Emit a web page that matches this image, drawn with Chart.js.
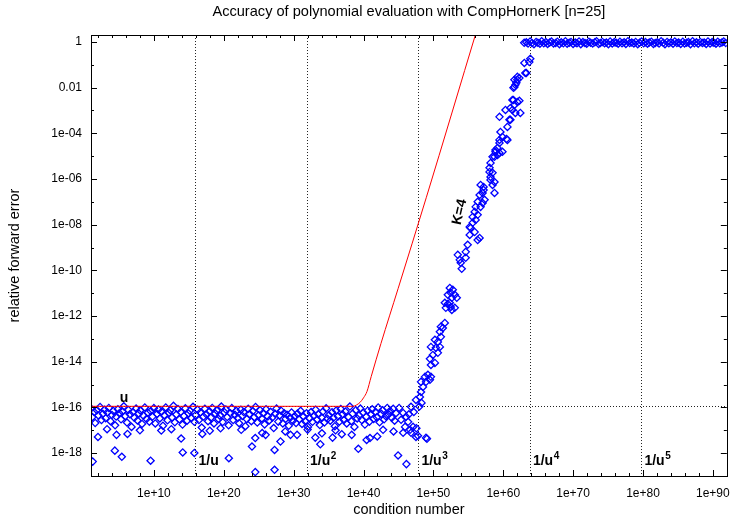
<!DOCTYPE html>
<html>
<head>
<meta charset="UTF-8">
<title>Accuracy of polynomial evaluation with CompHornerK</title>
<script src="https://cdn.jsdelivr.net/npm/chart.js"></script>
<style>
  html, body { margin: 0; padding: 0; background: #fff; }
</style>
</head>
<body>
<canvas id="accuracyChart" width="740" height="520"></canvas>
<script>
// unit roundoff of binary64 and the 1/u^k reference lines
const unitRoundoff = 1.1102e-16;
const refLineValues = [9.007e15, 8.113e31, 7.308e47, 6.582e63, 5.929e79];
const refLinePowers = ['', '2', '3', '4', '5'];

// axis ticks
const xTickValues = [1e10, 1e20, 1e30, 1e40, 1e50, 1e60, 1e70, 1e80, 1e90];
const xTickLabels = ['1e+10', '1e+20', '1e+30', '1e+40', '1e+50', '1e+60', '1e+70', '1e+80', '1e+90'];
const yTickValues = [1e-18, 1e-16, 1e-14, 1e-12, 1e-10, 1e-8, 1e-6, 1e-4, 1e-2, 1];
const yTickLabels = ['1e-18', '1e-16', '1e-14', '1e-12', '1e-10', '1e-08', '1e-06', '1e-04', '0.01', '1'];

// measured relative errors, as log10 of condition number / log10 of error
// flat part (error around u)
const flatCondExp = [
  1.0, 1.2, 1.45, 1.6, 1.85, 2.05, 2.3, 2.5, 2.7, 2.95,
  3.1, 3.35, 3.55, 3.8, 4.0, 4.2, 4.45, 4.6, 4.85, 5.05,
  5.3, 5.5, 5.7, 5.9, 6.15, 6.35, 6.55, 6.8, 7.0, 7.2,
  7.45, 7.65, 7.85, 8.05, 8.3, 8.5, 8.7, 8.95, 9.15, 9.35,
  9.55, 9.8, 10.0, 10.2, 10.45, 10.65, 10.85, 11.1, 11.3, 11.5,
  11.7, 11.95, 12.15, 12.35, 12.6, 12.8, 13.0, 13.2, 13.45, 13.65,
  13.85, 14.1, 14.3, 14.5, 14.75, 14.95, 15.15, 15.35, 15.6, 15.8,
  16.0, 16.25, 16.45, 16.65, 16.85, 17.1, 17.3, 17.5, 17.75, 17.95,
  18.15, 18.35, 18.6, 18.8, 19.0, 19.25, 19.45, 19.65, 19.85, 20.1,
  20.3, 20.5, 20.7, 20.95, 21.15, 21.35, 21.6, 21.8, 22.0, 22.2,
  22.45, 22.65, 22.85, 23.1, 23.3, 23.5, 23.7, 23.95, 24.15, 24.35,
  24.55, 24.8, 25.0, 25.2, 25.45, 25.65, 25.85, 26.05, 26.3, 26.5,
  26.7, 26.95, 27.15, 27.35, 27.55, 27.8, 28.0, 28.2, 28.45, 28.65,
  28.85, 29.05, 29.3, 29.5, 29.7, 29.9, 30.15, 30.35, 30.55, 30.8,
  31.0, 31.2, 31.4, 31.65, 31.85, 32.05, 32.3, 32.5, 32.7, 32.9,
  33.15, 33.35, 33.55, 33.75, 34.0, 34.2, 34.4, 34.65, 34.85, 35.05,
  35.25, 35.5, 35.7, 35.9, 36.1, 36.35, 36.55, 36.75, 37.0, 37.2,
  37.4, 37.6, 37.85, 38.05, 38.25, 38.45, 38.7, 38.9, 39.1, 39.35,
  39.55, 39.75, 39.95, 40.2, 40.4, 40.6, 40.85, 41.05, 41.25, 41.45,
  41.7, 41.9, 42.1, 42.3, 42.55, 42.75, 42.95, 43.2, 43.4, 43.6,
  43.8, 44.05, 44.25, 44.45, 44.65
];
const flatErrExp = [
  -16.05, -16.42, -16.2, -16.68, -16.12, -16.35, -15.98, -16.55, -16.28, -16.1,
  -16.47, -16.22, -16.02, -16.6, -16.33, -16.15, -16.78, -16.4, -16.08, -16.25,
  -16.52, -16.18, -15.95, -16.38, -16.66, -16.11, -16.3, -16.85, -16.2, -16.45,
  -16.05, -16.57, -16.27, -16.13, -16.72, -16.36, -16.0, -16.5, -16.23, -16.62,
  -16.16, -16.4, -16.03, -16.7, -16.29, -16.09, -16.48, -16.19, -16.8, -16.34,
  -16.0, -16.56, -16.24, -16.12, -16.44, -15.93, -16.65, -16.31, -16.07, -16.52,
  -16.2, -16.75, -16.37, -16.04, -16.58, -16.26, -16.14, -16.47, -15.97, -16.63,
  -16.33, -16.1, -16.55, -16.22, -16.88, -16.4, -16.06, -16.3, -16.6, -16.17,
  -16.45, -16.02, -16.7, -16.27, -16.13, -16.5, -16.36, -15.96, -16.64, -16.21,
  -16.09, -16.42, -16.78, -16.25, -16.03, -16.55, -16.32, -16.15, -16.46, -16.69,
  -16.1, -16.37, -16.2, -16.82, -16.51, -16.06, -16.29, -16.6, -16.16, -16.43,
  -15.98, -16.66, -16.34, -16.12, -16.48, -16.24, -16.74, -16.08, -16.39, -16.57,
  -16.19, -16.44, -16.9, -16.28, -16.05, -16.62, -16.35, -16.14, -16.7, -16.25,
  -16.5, -16.32, -16.8, -16.45, -16.22, -16.58, -16.38, -16.68, -16.27, -16.52,
  -16.15, -16.72, -16.4, -16.6, -16.25, -16.85, -16.47, -16.2, -16.63, -16.36,
  -16.1, -16.53, -16.3, -16.77, -16.44, -16.18, -16.66, -16.04, -16.5, -16.34,
  -16.58, -16.21, -16.45, -16.82, -16.13, -16.39, -16.62, -16.07, -16.3, -16.55,
  -16.18, -16.7, -16.42, -15.96, -16.6, -16.27, -16.85, -16.12, -16.48, -16.35,
  -16.05, -16.55, -16.22, -16.75, -16.4, -16.14, -16.62, -16.3, -16.08, -16.5,
  -16.2, -16.43, -16.0, -16.65, -16.28, -16.12, -16.52, -16.38, -16.02, -16.3,
  -16.15, -16.45, -16.06, -16.58, -16.25
];

// scattered points below the flat band
const lowCondExp = [
  1.24, 2.0, 4.41, 5.41, 4.65, 6.22, 9.53, 11.06, 13.9, 14.13,
  15.79, 16.93, 20.73, 24.04, 24.51, 24.51, 25.99, 27.27, 27.27, 28.12,
  25.5, 29.55, 30.49, 33.1, 34.05, 33.82, 35.57, 36.89, 38.31, 39.26,
  40.93, 41.97, 40.45, 44.95, 46.14, 8.0, 12.5, 18.0, 22.5, 28.8,
  32.0, 36.0, 42.8, 44.3, 3.3, 19.54
];
const lowErrExp = [
  -18.37, -17.29, -17.89, -18.16, -17.2, -17.16, -18.33, -17.01, -17.36, -17.97,
  -17.99, -17.16, -18.22, -17.71, -17.34, -18.83, -17.2, -17.86, -18.73, -17.49,
  -17.12, -17.2, -17.2, -17.32, -17.13, -17.61, -17.32, -17.17, -17.2, -17.81,
  -17.34, -17.27, -17.42, -18.1, -18.48, -17.0, -16.95, -17.02, -16.98, -17.05,
  -16.97, -17.0, -16.98, -17.05, -16.95, -16.91
];

// rising part (K=4)
const riseCondExp = [
  45.1, 45.67, 46.09, 45.38, 46.38, 45.95, 46.66, 47.09, 46.8, 45.67,
  47.51, 47.8, 48.94, 49.08, 46.8, 47.51, 48.08, 48.23, 48.51, 48.8,
  49.22, 49.65, 48.23, 48.94, 49.51, 49.65, 50.22, 49.51, 49.93, 49.65,
  50.36, 50.93, 50.64, 50.22, 51.07, 50.93, 51.36, 51.07, 51.64, 50.64,
  51.64, 52.07, 52.49, 53.06, 51.78, 52.64, 52.35, 52.35, 52.49, 52.07,
  53.06, 53.35, 52.64, 52.78, 53.49, 53.77, 53.92, 54.06, 54.63, 54.63,
  54.91, 55.2, 55.34, 55.2, 55.91, 56.34, 56.62, 55.62, 56.05, 56.34,
  56.76, 57.05, 57.33, 56.05, 55.62, 55.91, 56.34, 56.62, 57.19, 57.05,
  58.75, 56.76, 57.19, 58.18, 58.04, 58.47, 58.75, 58.47, 58.18, 58.04,
  58.18, 58.75, 58.89, 59.18, 59.46, 59.89, 58.89, 59.18, 58.47, 59.46,
  59.89, 60.6, 60.46, 59.46, 59.6, 60.6, 61.03, 60.89, 59.46, 60.32,
  61.31, 61.03, 61.6, 61.46, 61.31, 62.02, 62.31, 62.45, 61.74, 61.46,
  61.74, 61.6, 61.88, 62.02, 62.31, 61.6, 62.02, 63.16, 63.3, 63.02,
  63.73, 63.87, 48.0, 47.57, 47.2, 46.5, 48.3
];
const riseErrExp = [
  -16.02, -16.24, -16.41, -16.54, -16.63, -16.85, -16.98, -16.85, -17.11, -17.11,
  -17.29, -17.24, -17.33, -17.37, -15.97, -15.67, -15.54, -15.32, -15.1, -14.66,
  -14.57, -14.66, -14.88, -14.88, -14.79, -14.14, -14.05, -13.87, -13.7, -13.35,
  -13.39, -13.35, -13.13, -13.04, -12.91, -12.69, -12.52, -12.47, -12.3, -13.61,
  -11.42, -11.47, -11.6, -11.64, -11.64, -11.73, -11.42, -10.77, -10.98, -11.07,
  -11.07, -11.2, -11.2, -10.85, -9.32, -9.54, -9.67, -9.93, -9.45, -9.19,
  -8.88, -8.45, -8.14, -8.1, -8.32, -8.67, -8.58, -7.92, -7.79, -7.57,
  -7.22, -7.05, -6.91, -7.22, -7.66, -7.44, -7.0, -6.7, -6.48, -6.61,
  -6.61, -6.26, -6.35, -5.91, -5.69, -5.73, -6.13, -6.26, -6.04, -5.51,
  -5.3, -5.03, -4.81, -4.64, -4.86, -4.81, -4.73, -4.95, -5.03, -4.29,
  -4.16, -4.29, -4.25, -4.42, -3.94, -3.72, -3.41, -3.41, -3.28, -2.98,
  -2.98, -2.89, -2.76, -2.54, -2.54, -2.63, -2.58, -3.11, -3.11, -2.01,
  -1.88, -1.97, -1.79, -1.66, -1.58, -1.66, -1.53, -1.36, -1.36, -0.92,
  -0.88, -0.74, -15.96, -16.91, -16.2, -16.3, -15.8
];

// saturated part (error around 1)
const topCondExp = [
  63.0, 63.3, 63.55, 63.85, 64.1, 64.4, 64.7, 64.95, 65.25, 65.5, 65.8,
  66.1, 66.35, 66.65, 66.9, 67.2, 67.5, 67.75, 68.05, 68.3, 68.6,
  68.9, 69.15, 69.45, 69.7, 70.0, 70.3, 70.55, 70.85, 71.1, 71.4,
  71.7, 71.95, 72.25, 72.5, 72.8, 73.1, 73.35, 73.65, 73.9, 74.2,
  74.5, 74.75, 75.05, 75.3, 75.6, 75.9, 76.15, 76.45, 76.7, 77.0,
  77.3, 77.55, 77.85, 78.1, 78.4, 78.7, 78.95, 79.25, 79.5, 79.8,
  80.1, 80.35, 80.65, 80.9, 81.2, 81.5, 81.75, 82.05, 82.3, 82.6,
  82.9, 83.15, 83.45, 83.7, 84.0, 84.3, 84.55, 84.85, 85.1, 85.4,
  85.7, 85.95, 86.25, 86.5, 86.8, 87.1, 87.35, 87.65, 87.9, 88.2,
  88.5, 88.75, 89.05, 89.3, 89.6, 89.9, 90.15, 90.45, 90.7, 91.0,
  91.3, 91.55, 91.85
];
const topErrExp = [
  -0.04, -0.02, -0.07, 0.02, -0.05, -0.1, 0.0, -0.04, -0.08, 0.03, -0.06,
  -0.01, -0.09, -0.03, 0.02, -0.07, -0.05, 0.01, -0.1, -0.02, -0.06,
  0.03, -0.08, -0.04, 0.0, -0.09, -0.03, -0.06, 0.02, -0.1, -0.01,
  -0.05, -0.08, 0.01, -0.04, -0.07, -0.02, 0.03, -0.09, -0.05, 0.0,
  -0.06, -0.03, -0.1, 0.02, -0.07, -0.01, -0.04, -0.08, 0.01, -0.06,
  -0.02, -0.09, 0.03, -0.05, -0.03, -0.07, 0.0, -0.1, -0.04, 0.02,
  -0.06, -0.01, -0.08, -0.03, 0.01, -0.09, -0.05, -0.02, -0.07, 0.03,
  -0.04, -0.1, 0.0, -0.06, -0.02, -0.08, 0.02, -0.05, -0.03, -0.09,
  0.01, -0.07, -0.04, -0.01, -0.1, 0.03, -0.06, -0.02, -0.08, 0.0,
  -0.05, -0.03, -0.09, 0.02, -0.07, -0.01, -0.04, -0.08, 0.01, -0.06,
  -0.03, 0.02, -0.05
];

// a priori error bound (red curve)
const boundCondExp = [1, 38.5, 39.0, 39.5, 40.0, 40.5, 41.1, 42.5, 44.95, 49.0, 56.3];
const boundErrExp = [-15.95, -15.95, -15.89, -15.78, -15.58, -15.3, -14.65, -13.2, -10.8, -6.8, 0.6];

// text labels (data coordinates)
const uLabelPos = [1.35e5, 1.8e-16];
const refLabelY = 3.1e-19;
const kLabelPos = [6e53, 3.6e-8];

const fontFamily = '"Liberation Sans", Arial, Helvetica, sans-serif';
Chart.defaults.font.family = fontFamily;

const toPoints = (condExp, errExp) => condExp.map((c, i) => ({ x: Math.pow(10, c), y: Math.pow(10, errExp[i]) }));

const measured = [
  ...toPoints(flatCondExp, flatErrExp),
  ...toPoints(lowCondExp, lowErrExp),
  ...toPoints(riseCondExp, riseErrExp),
  ...toPoints(topCondExp, topErrExp)
];

// frame, inward ticks, dotted reference lines and labels
const decorations = {
  id: 'decorations',
  beforeDatasetsDraw(chart) {
    const { ctx, chartArea: a, scales: { x, y } } = chart;
    ctx.save();
    ctx.strokeStyle = '#222';
    ctx.lineWidth = 1;
    ctx.setLineDash([1, 2]);
    ctx.beginPath();
    refLineValues.forEach(v => {
      const px = Math.round(x.getPixelForValue(v)) + 0.5;
      ctx.moveTo(px, a.top);
      ctx.lineTo(px, a.bottom);
    });
    const py = Math.round(y.getPixelForValue(unitRoundoff)) + 0.5;
    ctx.moveTo(a.left, py);
    ctx.lineTo(a.right, py);
    ctx.stroke();
    ctx.restore();
  },
  afterDraw(chart) {
    const { ctx, chartArea: a, scales: { x, y } } = chart;
    ctx.save();
    ctx.strokeStyle = '#000';
    ctx.lineWidth = 1;
    ctx.beginPath();
    const vTick = (v, len) => {
      const px = Math.round(x.getPixelForValue(v)) + 0.5;
      ctx.moveTo(px, a.bottom); ctx.lineTo(px, a.bottom - len);
      ctx.moveTo(px, a.top); ctx.lineTo(px, a.top + len);
    };
    const hTick = (v, len) => {
      const py = Math.round(y.getPixelForValue(v)) + 0.5;
      ctx.moveTo(a.left, py); ctx.lineTo(a.left + len, py);
      ctx.moveTo(a.right, py); ctx.lineTo(a.right - len, py);
    };
    xTickValues.forEach(v => vTick(v, 6));
    for (let e = 2; e < 92; e += 2) if (e % 10) vTick(Math.pow(10, e), 3);
    yTickValues.forEach(v => hTick(v, 6));
    for (let e = -17; e < 0; e += 2) hTick(Math.pow(10, e), 3);
    ctx.stroke();
    ctx.strokeRect(Math.round(a.left) + 0.5, Math.round(a.top) + 0.5,
      Math.round(a.right - a.left), Math.round(a.bottom - a.top));

    ctx.fillStyle = '#000';
    ctx.textAlign = 'left';
    ctx.textBaseline = 'alphabetic';
    ctx.font = 'bold 14px ' + fontFamily;
    ctx.fillText('u', x.getPixelForValue(uLabelPos[0]), y.getPixelForValue(uLabelPos[1]));

    refLineValues.forEach((v, i) => {
      const px = x.getPixelForValue(v) + 3;
      const py = y.getPixelForValue(refLabelY);
      ctx.font = 'bold 14px ' + fontFamily;
      ctx.fillText('1/u', px, py);
      if (refLinePowers[i]) {
        const w = ctx.measureText('1/u').width;
        ctx.font = 'bold 10px ' + fontFamily;
        ctx.fillText(refLinePowers[i], px + w + 0.5, py - 6);
      }
    });

    ctx.translate(x.getPixelForValue(kLabelPos[0]), y.getPixelForValue(kLabelPos[1]));
    ctx.rotate(-77 * Math.PI / 180);
    ctx.textAlign = 'center';
    ctx.textBaseline = 'middle';
    ctx.font = 'bold 14px ' + fontFamily;
    ctx.fillText('K=4', 0, 0);
    ctx.restore();
  }
};

new Chart(document.getElementById('accuracyChart'), {
  type: 'scatter',
  data: {
    datasets: [
      {
        label: 'bound',
        data: toPoints(boundCondExp, boundErrExp),
        showLine: true,
        borderColor: '#ff0000',
        borderWidth: 1,
        pointRadius: 0,
        cubicInterpolationMode: 'monotone'
      },
      {
        label: 'CompHornerK',
        data: measured,
        pointStyle: 'rectRot',
        pointRadius: 3.6,
        borderWidth: 1.3,
        borderColor: '#0000ff',
        backgroundColor: 'rgba(0,0,0,0)'
      }
    ]
  },
  options: {
    responsive: false,
    animation: false,
    events: [],
    layout: { padding: { left: 0, right: 9, top: 0, bottom: 0 } },
    plugins: {
      legend: { display: false },
      tooltip: { enabled: false },
      title: {
        display: true,
        fullSize: false,
        text: 'Accuracy of polynomial evaluation with CompHornerK [n=25]',
        color: '#000',
        font: { size: 14.6, weight: 'normal' },
        padding: { top: 3.4, bottom: 14.1 }
      }
    },
    scales: {
      x: {
        type: 'logarithmic',
        min: 10,
        max: 1e92,
        afterBuildTicks: s => { s.ticks = xTickValues.map(v => ({ value: v })); },
        afterFit: s => { s.height = 44; },
        grid: { display: false, drawTicks: false },
        border: { display: false },
        ticks: {
          callback: (v, i) => xTickLabels[i],
          color: '#000',
          font: { size: 12 },
          padding: 10,
          maxRotation: 0,
          autoSkip: false
        },
        title: {
          display: true,
          text: 'condition number',
          color: '#000',
          font: { size: 14.5 },
          padding: { top: 0, bottom: 1 }
        }
      },
      y: {
        type: 'logarithmic',
        min: 1e-19,
        max: 2,
        afterBuildTicks: s => { s.ticks = yTickValues.map(v => ({ value: v })); },
        afterFit: s => { s.width = 91; },
        grid: { display: false, drawTicks: false },
        border: { display: false },
        ticks: {
          callback: (v, i) => yTickLabels[i],
          color: '#000',
          font: { size: 12 },
          padding: 9,
          autoSkip: false
        },
        title: {
          display: true,
          text: 'relative forward error',
          color: '#000',
          font: { size: 14.5 },
          padding: { top: 6, bottom: 0 }
        }
      }
    }
  },
  plugins: [decorations]
});
</script>
</body>
</html>
